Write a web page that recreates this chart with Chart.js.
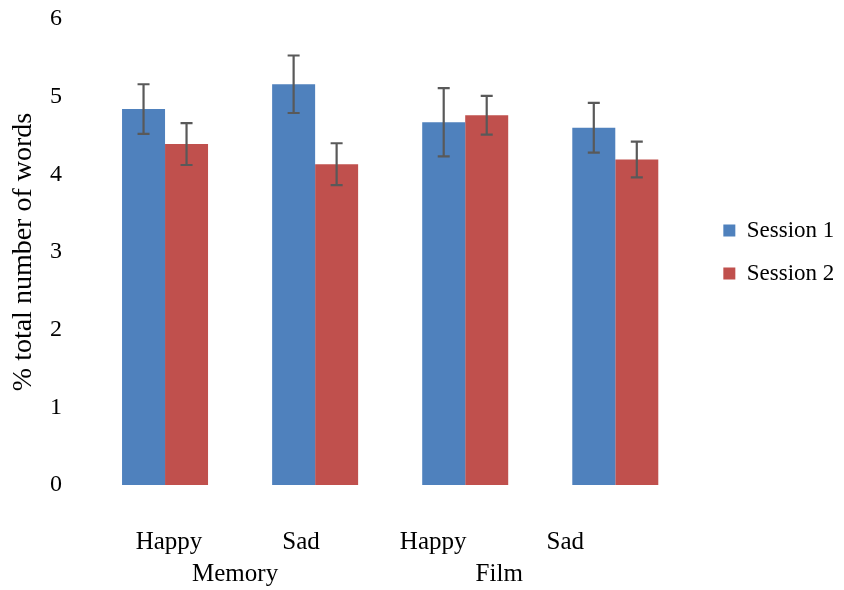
<!DOCTYPE html>
<html>
<head>
<meta charset="utf-8">
<script src="https://cdn.jsdelivr.net/npm/chart.js@4.4.1/dist/chart.umd.min.js"></script>
<style>
  html, body { margin: 0; padding: 0; background: #fff; }
  #wrap { width: 844px; height: 590px; }
</style>
</head>
<body>
<div id="wrap"><canvas id="grafico"></canvas></div>
<script>
// datos
const categorias = ['Memory Happy', 'Memory Sad', 'Film Happy', 'Film Sad'];
const etiquetas = ['Happy', 'Sad', 'Happy', 'Sad'];
const grupos = ['Memory', 'Film'];
const sesion1 = [4.84, 5.16, 4.67, 4.60];
const sesion2 = [4.39, 4.13, 4.76, 4.19];
const error1 = [0.32, 0.37, 0.44, 0.32];
const error2 = [0.27, 0.27, 0.25, 0.23];
const yTicks = [0, 1, 2, 3, 4, 5, 6];
// posiciones de los textos del eje x (en el original estan algo corridos)
const posEtiquetas = [1, 2, 3, 4];
const posGrupos = [1.5, 3.5];

const fuente = '"Liberation Serif", "Times New Roman", serif';

// plugin para las barras de error
const barrasError = {
  id: 'barrasError',
  afterDatasetsDraw(chart) {
    const ctx = chart.ctx;
    const y = chart.scales.y;
    const errores = [error1, error2];
    ctx.save();
    ctx.strokeStyle = '#595959';
    ctx.lineWidth = 2.2;
    chart.data.datasets.forEach((ds, i) => {
      const meta = chart.getDatasetMeta(i);
      meta.data.forEach((bar, j) => {
        const v = ds.data[j];
        const e = errores[i][j];
        const top = y.getPixelForValue(v + e);
        const bot = y.getPixelForValue(v - e);
        const x = bar.x;
        ctx.beginPath();
        ctx.moveTo(x, top); ctx.lineTo(x, bot);
        ctx.moveTo(x - 6, top); ctx.lineTo(x + 6, top);
        ctx.moveTo(x - 6, bot); ctx.lineTo(x + 6, bot);
        ctx.stroke();
      });
    });
    ctx.restore();
  }
};

// eje auxiliar solo para los textos del eje x
function ejeTexto(pos, textos, peso, alto, pad) {
  return {
    type: 'linear',
    position: 'bottom',
    weight: peso,
    bounds: 'data',
    offset: false,
    min: 0.4015,
    max: 4.947,
    afterBuildTicks: s => { s.ticks = pos.map(v => ({ value: v })); },
    afterFit: s => { s.height = alto; },
    grid: { display: false, drawTicks: false, offset: false },
    border: { display: false },
    ticks: {
      color: '#000',
      padding: pad,
      maxRotation: 0,
      autoSkip: false,
      font: { family: fuente, size: 25 },
      callback: (v) => textos[pos.indexOf(v)]
    }
  };
}

const ctx = document.getElementById('grafico').getContext('2d');
new Chart(ctx, {
  type: 'bar',
  data: {
    labels: categorias,
    datasets: [{
      label: 'Session 1',
      data: sesion1,
      backgroundColor: '#4F81BD',
      categoryPercentage: 0.573,
      barPercentage: 1.0
    }, {
      label: 'Session 2',
      data: sesion2,
      backgroundColor: '#C0504D',
      categoryPercentage: 0.573,
      barPercentage: 1.0
    }]
  },
  options: {
    responsive: true,
    maintainAspectRatio: false,
    animation: false,
    layout: { padding: { left: 0, top: 19, right: 0, bottom: 0 } },
    plugins: {
      tooltip: { enabled: false },
      legend: {
        position: 'right',
        fullSize: false,
        labels: {
          boxWidth: 12,
          boxHeight: 12,
          padding: 20,
          color: '#000',
          font: { family: fuente, size: 23 }
        }
      }
    },
    scales: {
      x: { display: false },
      y: {
        min: 0,
        max: 6,
        afterBuildTicks: s => { s.ticks = yTicks.map(v => ({ value: v })); },
        afterFit: s => { s.width = 90; s.paddingTop = 0; s.paddingBottom = 0; },
        grid: { display: false, drawTicks: false },
        border: { display: false },
        ticks: { color: '#000', padding: 28, font: { family: fuente, size: 24 } },
        title: {
          display: true,
          text: '% total number of words',
          color: '#000',
          padding: { top: 7, bottom: 0 },
          font: { family: fuente, size: 28 }
        }
      },
      // eje vacio a la derecha, solo deja espacio antes de la leyenda
      yr: {
        position: 'right',
        min: 0,
        max: 6,
        afterFit: s => { s.width = 13; s.paddingTop = 0; s.paddingBottom = 0; },
        grid: { display: false, drawTicks: false },
        border: { display: false },
        ticks: { display: false }
      },
      xl: ejeTexto(posEtiquetas, etiquetas, 1, 72, 42),
      xg: ejeTexto(posGrupos, grupos, 2, 33, 2)
    }
  },
  plugins: [barrasError]
});
</script>
</body>
</html>
